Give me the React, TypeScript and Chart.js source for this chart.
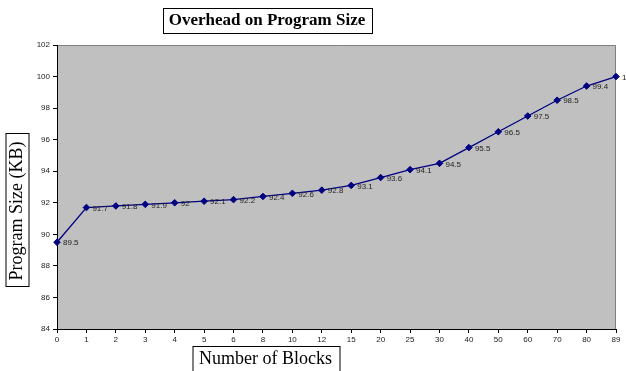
import React, { useEffect, useRef } from "react";
import { Chart, registerables } from "chart.js";

Chart.register(...registerables);

const TITLE = "Overhead on Program Size";
const X_TITLE = "Number of Blocks";
const Y_TITLE = "Program Size (KB)";
const blocks = ["0", "1", "2", "3", "4", "5", "6", "8", "10", "12", "15", "20", "25", "30", "40", "50", "60", "70", "80", "89"];
const sizes = [89.5, 91.7, 91.8, 91.9, 92, 92.1, 92.2, 92.4, 92.6, 92.8, 93.1, 93.6, 94.1, 94.5, 95.5, 96.5, 97.5, 98.5, 99.4, 100];
const Y_MIN = 84;
const Y_MAX = 102;
const Y_STEP = 2;

const SERIF = "'Liberation Serif', 'Times New Roman', serif";
const SANS = "'Liberation Sans', Arial, sans-serif";

const decorPlugin = {
  id: "decor",
  beforeDraw(chart: any) {
    const { ctx, chartArea: a } = chart;
    ctx.save();
    ctx.fillStyle = "#ffffff";
    ctx.fillRect(0, 0, chart.width, chart.height);
    ctx.fillStyle = "#C0C0C0";
    ctx.fillRect(a.left, a.top, a.right - a.left, a.bottom - a.top);
    ctx.strokeStyle = "#808080";
    ctx.lineWidth = 1;
    ctx.beginPath();
    ctx.moveTo(a.left, a.top + 0.5);
    ctx.lineTo(a.right - 0.5, a.top + 0.5);
    ctx.lineTo(a.right - 0.5, a.bottom);
    ctx.stroke();
    ctx.restore();
  },
  afterDatasetsDraw(chart: any) {
    const { ctx } = chart;
    const meta = chart.getDatasetMeta(0);
    ctx.save();
    ctx.font = `8px ${SANS}`;
    ctx.fillStyle = "#222222";
    ctx.textAlign = "left";
    ctx.textBaseline = "middle";
    meta.data.forEach((pt: any, i: number) => {
      ctx.fillText(String(sizes[i]), pt.x + 6, pt.y + 1);
    });
    ctx.restore();
  },
  afterDraw(chart: any) {
    const { ctx } = chart;
    ctx.save();
    const box = (text: string, cx: number, cy: number, font: string, padX: number, h: number, rotate: boolean) => {
      ctx.save();
      ctx.translate(cx, cy);
      if (rotate) ctx.rotate(-Math.PI / 2);
      ctx.font = font;
      const w = ctx.measureText(text).width + padX * 2;
      ctx.fillStyle = "#ffffff";
      ctx.fillRect(-w / 2, -h / 2, w, h);
      ctx.strokeStyle = "#000";
      ctx.lineWidth = 1;
      ctx.strokeRect(Math.round(-w / 2) + 0.5, Math.round(-h / 2) + 0.5, Math.round(w), Math.round(h));
      ctx.fillStyle = "#000";
      ctx.textAlign = "center";
      ctx.textBaseline = "middle";
      ctx.fillText(text, 0, 1);
      ctx.restore();
    };
    box(TITLE, 267, 20, `bold 17px ${SERIF}`, 6, 25, false);
    box(Y_TITLE, 16.5, 211, `18px ${SERIF}`, 7, 23, true);
    box(X_TITLE, 265.5, 358, `18px ${SERIF}`, 7, 25, false);
    ctx.restore();
  },
};

export default function App() {
  const ref = useRef<HTMLCanvasElement>(null);
  useEffect(() => {
    if (!ref.current) return;
    const chart = new Chart(ref.current, {
      type: "line",
      data: {
        labels: blocks,
        datasets: [
          {
            data: sizes,
            borderColor: "#000080",
            backgroundColor: "#000080",
            borderWidth: 1.3,
            pointStyle: "rectRot",
            pointRadius: 3.3,
            pointBorderWidth: 1,
            pointBackgroundColor: "#000080",
            pointBorderColor: "#000080",
            tension: 0,
          },
        ],
      },
      options: {
        animation: false,
        responsive: false,
        maintainAspectRatio: false,
        layout: { padding: { top: 45, right: 10, left: 0, bottom: 0 } },
        plugins: { legend: { display: false }, title: { display: false }, tooltip: { enabled: false } },
        scales: {
          x: {
            type: "category",
            offset: false,
            grid: { drawOnChartArea: false, drawTicks: true, tickLength: 4, color: "#000" },
            border: { display: true, color: "#000", width: 1 },
            ticks: { font: { family: SANS, size: 8 }, color: "#222", padding: 2, maxRotation: 0, autoSkip: false },
            afterFit(scale: any) {
              scale.height = 42;
            },
          },
          y: {
            min: Y_MIN,
            max: Y_MAX,
            grid: { drawOnChartArea: false, drawTicks: true, tickLength: 4, color: "#000" },
            border: { display: true, color: "#000", width: 1 },
            ticks: { stepSize: Y_STEP, font: { family: SANS, size: 8 }, color: "#222", padding: 3 },
            afterFit(scale: any) {
              scale.width = 57;
            },
          },
        },
      },
      plugins: [decorPlugin],
    });
    return () => chart.destroy();
  }, []);
  return (
    <div style={{ position: "fixed", left: 0, top: 0, width: 626, height: 371, background: "#fff" }}>
      <canvas ref={ref} width={626} height={371} style={{ display: "block", width: 626, height: 371 }} />
    </div>
  );
}
